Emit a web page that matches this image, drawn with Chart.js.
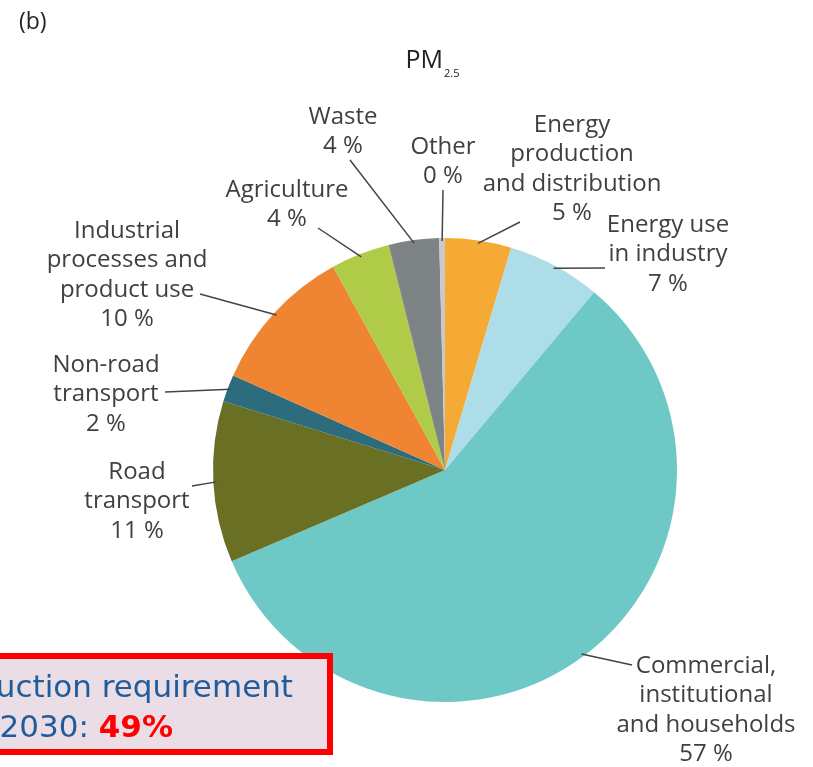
<!DOCTYPE html>
<html>
<head>
<meta charset="utf-8">
<script src="https://cdn.jsdelivr.net/npm/chart.js@4/dist/chart.umd.min.js"></script>
<style>
  html, body { margin: 0; padding: 0; background: #fff; overflow: hidden; }
  canvas { display: block; }
</style>
</head>
<body>
<canvas id="c" width="813" height="767"></canvas>
<script>
// PM2.5 emissions by sector, clockwise from 12 o'clock
const sectors = ['Energy production and distribution', 'Energy use in industry',
  'Commercial, institutional and households', 'Road transport', 'Non-road transport',
  'Industrial processes and product use', 'Agriculture', 'Waste', 'Other'];
const sectorLines = [['Energy', 'production', 'and distribution'], ['Energy use', 'in industry'],
  ['Commercial,', 'institutional', 'and households'], ['Road', 'transport'], ['Non-road', 'transport'],
  ['Industrial', 'processes and', 'product use'], ['Agriculture'], ['Waste'], ['Other']];
const shares = [4.6, 6.5, 57.4, 11.2, 1.9, 10.3, 4.1, 3.5, 0.4];
const shareLabels = ['5 %', '7 %', '57 %', '11 %', '2 %', '10 %', '4 %', '4 %', '0 %'];
const colors = ['#F5AA36', '#ADDDE8', '#6EC8C5', '#6A7023', '#2D6C7C', '#EF8532', '#B0CB47', '#7E8385', '#C9C9C9'];

// where each label block sits, and where its leader line ends on the label side
const labelPos = [
  { x: 572, y: 125, lx: 520, ly: 222 },
  { x: 668, y: 225, lx: 605, ly: 268 },
  { x: 706, y: 666, lx: 632, ly: 665 },
  { x: 137, y: 472, lx: 192, ly: 486 },
  { x: 106, y: 365, lx: 165, ly: 392 },
  { x: 127, y: 231, lx: 200, ly: 294 },
  { x: 287, y: 190, lx: 318, ly: 228 },
  { x: 343, y: 117, lx: 350, ly: 160 },
  { x: 443, y: 147, lx: 443, ly: 190 }
];
const LINE_H = 29.4;
const FONT = '"Open Sans", "DejaVu Sans", sans-serif';
const BOX_FONT = '"DejaVu Sans", Verdana, sans-serif';

const labelPlugin = {
  id: 'sectorLabels',
  afterDatasetsDraw(chart) {
    const ctx = chart.ctx;
    const arcs = chart.getDatasetMeta(0).data;
    ctx.save();
    // leader lines
    ctx.strokeStyle = '#444';
    ctx.lineWidth = 1.5;
    arcs.forEach((arc, i) => {
      const p = arc.getProps(['x', 'y', 'startAngle', 'endAngle', 'outerRadius'], true);
      const mid = (p.startAngle + p.endAngle) / 2;
      const r = p.outerRadius - 3;
      ctx.beginPath();
      ctx.moveTo(p.x + Math.cos(mid) * r, p.y + Math.sin(mid) * r);
      ctx.lineTo(labelPos[i].lx, labelPos[i].ly);
      ctx.stroke();
    });
    // label text
    ctx.fillStyle = '#404040';
    ctx.font = '24px ' + FONT;
    ctx.textAlign = 'center';
    ctx.textBaseline = 'middle';
    sectorLines.forEach((lines, i) => {
      const pos = labelPos[i];
      const all = lines.concat([shareLabels[i]]);
      all.forEach((t, k) => ctx.fillText(t, pos.x, pos.y + k * LINE_H));
    });

    // panel letter and title
    ctx.textAlign = 'left';
    ctx.textBaseline = 'alphabetic';
    ctx.font = '23px ' + FONT;
    ctx.fillStyle = '#222';
    ctx.fillText('(b)', 19, 29);
    ctx.font = '25px ' + FONT;
    const pmW = ctx.measureText('PM').width;
    ctx.fillText('PM', 443 - pmW, 68);
    ctx.font = '11px ' + FONT;
    ctx.fillText('2.5', 444, 77);
    ctx.restore();
  },
  afterDraw(chart) {
    // callout box over bottom-left
    const ctx = chart.ctx;
    ctx.save();
    ctx.fillStyle = '#EBDDE5';
    ctx.fillRect(-10, 653, 343, 102);
    ctx.strokeStyle = '#FF0000';
    ctx.lineWidth = 6;
    ctx.strokeRect(-10, 656, 340, 96);
    ctx.textBaseline = 'alphabetic';
    ctx.textAlign = 'right';
    ctx.font = '31px ' + BOX_FONT;
    ctx.fillStyle = '#1F5C9C';
    ctx.fillText('uction requirement', 293, 697);
    ctx.font = 'bold 31px ' + BOX_FONT;
    const pctW = ctx.measureText('49%').width;
    ctx.fillStyle = '#FF0000';
    ctx.fillText('49%', 173, 737);
    ctx.font = '31px ' + BOX_FONT;
    ctx.fillStyle = '#1F5C9C';
    ctx.fillText('2030: ', 173 - pctW, 737);
    ctx.restore();
  }
};

new Chart(document.getElementById('c'), {
  type: 'pie',
  data: {
    labels: sectors,
    datasets: [{
      data: shares,
      backgroundColor: colors,
      borderWidth: 0
    }]
  },
  options: {
    responsive: false,
    animation: false,
    layout: { padding: { left: 213, right: 136, top: 238, bottom: 65 } },
    plugins: { legend: { display: false }, tooltip: { enabled: false } }
  },
  plugins: [labelPlugin]
});
</script>
</body>
</html>
